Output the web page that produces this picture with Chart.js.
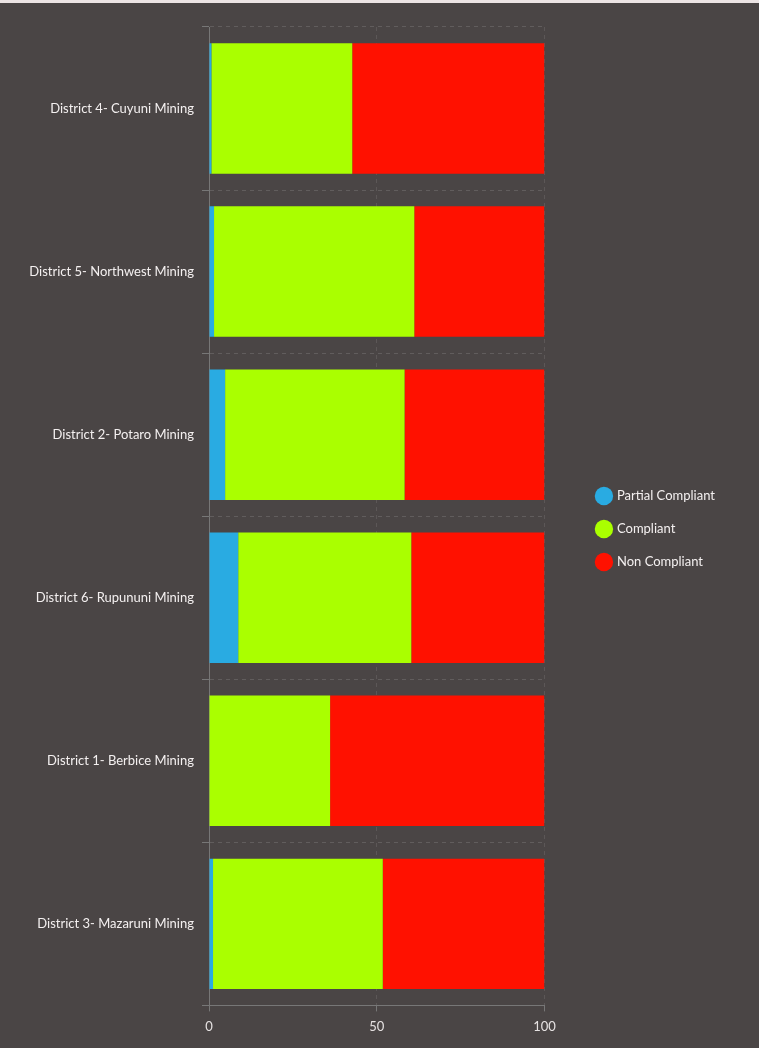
<!DOCTYPE html>
<html>
<head>
<meta charset="utf-8">
<script src="https://cdn.jsdelivr.net/npm/chart.js@4"></script>
<style>
  html, body { margin: 0; padding: 0; background: #4a4545; }
  #wrap { width: 759px; height: 1045px; border-top: 3px solid #ece4e4; position: relative; }
</style>
</head>
<body>
<div id="wrap"><canvas id="myChart"></canvas></div>
<script>
// categories (top to bottom)
const districts = [
  'District 4- Cuyuni Mining',
  'District 5- Northwest Mining',
  'District 2- Potaro Mining',
  'District 6- Rupununi Mining',
  'District 1- Berbice Mining',
  'District 3- Mazaruni Mining'
];
// percentages
const partialCompliant = [0.7, 1.5, 4.8, 8.7, 0, 1.2];
const compliant = [42.0, 59.7, 53.5, 51.6, 36.1, 50.6];
const nonCompliant = [57.3, 38.8, 41.7, 39.7, 63.9, 48.2];
const xTicks = [0, 50, 100];

Chart.defaults.font.family = 'Lato, "Open Sans", sans-serif';
Chart.defaults.font.size = 13;
Chart.defaults.color = '#f2eeee';

// pousse la légende un peu à droite du graphique
const legendShift = {
  id: 'legendShift',
  afterLayout(chart) {
    const lg = chart.legend;
    if (!lg) return;
    lg.left += 33;
    lg.right += 33;
    lg.top -= 6;
    lg.bottom -= 6;
  }
};

const ctx = document.getElementById('myChart').getContext('2d');
const myChart = new Chart(ctx, {
  type: 'bar',
  data: {
    labels: districts,
    datasets: [
      { label: 'Partial Compliant', data: partialCompliant, backgroundColor: '#29abe2' },
      { label: 'Compliant', data: compliant, backgroundColor: '#aaff00' },
      { label: 'Non Compliant', data: nonCompliant, backgroundColor: '#ff1100' }
    ]
  },
  options: {
    indexAxis: 'y',
    responsive: true,
    maintainAspectRatio: false,
    animation: false,
    categoryPercentage: 1,
    barPercentage: 0.8,
    layout: { padding: { top: 24, bottom: 5, left: 0, right: 67 } },
    scales: {
      x: {
        stacked: true,
        min: 0,
        max: 100,
        afterBuildTicks: scale => { scale.ticks = xTicks.map(v => ({ value: v })); },
        ticks: { color: '#e6e2e2', padding: 8 },
        grid: { color: 'rgba(255,255,255,0.10)', tickLength: 6, tickColor: '#777' },
        border: { color: '#777', dash: [4, 4] }
      },
      y: {
        stacked: true,
        afterFit: scale => { scale.width = 209; },
        ticks: { color: '#f4f0f0', padding: 8 },
        grid: { color: 'rgba(255,255,255,0.13)', tickLength: 7, tickColor: '#777', offset: true },
        border: { color: '#777', dash: [4, 4] }
      }
    },
    plugins: {
      legend: {
        position: 'right',
        labels: {
          usePointStyle: true,
          pointStyle: 'circle',
          padding: 20,
          color: '#f4f0f0'
        }
      },
      tooltip: { enabled: false }
    }
  },
  plugins: [legendShift]
});
</script>
</body>
</html>
